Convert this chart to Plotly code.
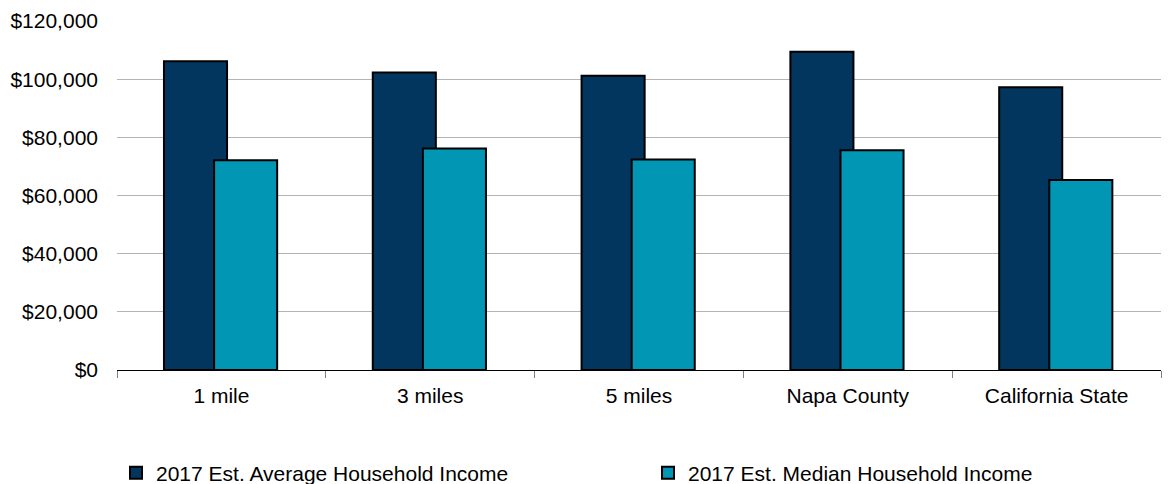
import plotly.graph_objects as go

categories = ["1 mile", "3 miles", "5 miles", "Napa County", "California State"]
avg_income = [106200, 102300, 101200, 109400, 97200]
median_income = [72100, 76200, 72400, 75600, 65300]
series_names = ["2017 Est. Average Household Income", "2017 Est. Median Household Income"]
y_ticks = [0, 20000, 40000, 60000, 80000, 100000, 120000]
y_tick_labels = ["$0", "$20,000", "$40,000", "$60,000", "$80,000", "$100,000", "$120,000"]

FONT = "Liberation Sans, Arial, sans-serif"

fig = go.Figure()
fig.add_trace(go.Bar(
    x=categories, y=avg_income, name=series_names[0],
    marker=dict(color="#03365F", line=dict(color="#000000", width=2)),
    offset=-0.275, width=0.302, legend="legend",
))
fig.add_trace(go.Bar(
    x=categories, y=median_income, name=series_names[1],
    marker=dict(color="#0096B4", line=dict(color="#000000", width=2)),
    offset=-0.035, width=0.302, legend="legend2",
))

legend_common = dict(
    orientation="h", xanchor="left", yanchor="middle",
    xref="container", yref="container", y=1 - 473 / 484,
    font=dict(family=FONT, size=21, color="#000000"),
    bgcolor="rgba(0,0,0,0)", borderwidth=0, itemclick=False,
)

fig.update_layout(
    width=1172, height=484,
    barmode="overlay",
    plot_bgcolor="white", paper_bgcolor="white",
    margin=dict(l=117, r=11, t=21, b=114, autoexpand=False),
    font=dict(family=FONT, size=21, color="#000000"),
    showlegend=True,
    legend=dict(legend_common, x=116 / 1172),
    legend2=dict(legend_common, x=648 / 1172),
)
fig.update_yaxes(
    range=[0, 120000], tickvals=y_ticks, ticktext=y_tick_labels,
    showgrid=True, gridcolor="#B4B4B4", gridwidth=1,
    zeroline=False, showline=False, ticks="",
    ticklabelstandoff=18,
    tickfont=dict(family=FONT, size=21, color="#000000"),
)
fig.update_xaxes(
    showline=True, linecolor="#000000", linewidth=1,
    ticks="outside", tickson="boundaries", ticklen=7, tickcolor="#808080", tickwidth=1,
    showgrid=False, ticklabelstandoff=7,
    tickfont=dict(family=FONT, size=21, color="#000000"),
)

fig.write_html("out.html")
